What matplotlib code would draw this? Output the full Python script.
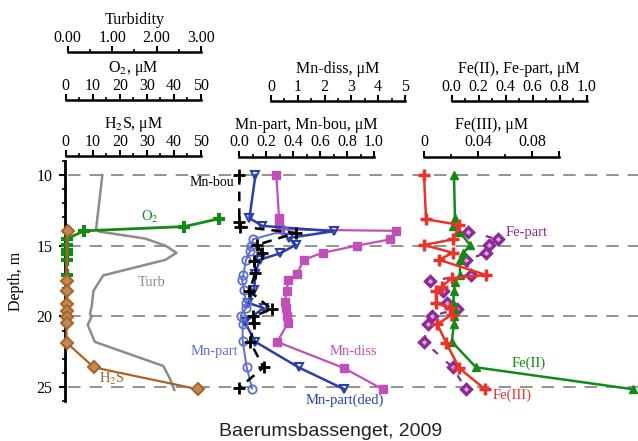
import matplotlib
matplotlib.use("Agg")
import matplotlib.pyplot as plt
from matplotlib.ticker import FixedLocator, FormatStrFormatter

plt.rcParams["font.family"] = ["Liberation Serif", "DejaVu Serif"]
plt.rcParams["mathtext.fontset"] = "stix"
plt.rcParams["lines.scale_dashes"] = False

# ---- data (depth in m) ----
turb_depth = [10.0, 13.8, 14.0, 14.5, 15.0, 15.5, 16.0, 17.1, 18.2, 19.3, 19.8, 20.0, 20.6, 21.8, 23.5, 24.4, 25.2]
turb = [0.78, 0.64, 0.70, 1.75, 2.2, 2.45, 2.2, 0.80, 0.58, 0.54, 0.50, 0.54, 0.45, 0.61, 2.15, 2.3, 2.4]

o2_depth = [13.1, 13.65, 13.95, 14.5, 14.95, 15.3, 15.6, 16.0, 17.1]
o2 = [56.5, 43.8, 6.8, 0.6, 0.3, 0.3, 0.3, 0.3, 0.3]

h2s_depth = [13.95, 17.5, 18.2, 19.1, 19.6, 20.05, 20.5, 21.85, 23.6, 25.15]
h2s = [0.7, 0.3, 0.3, 0.3, 0.3, 0.3, 0.3, 0.3, 10.4, 48.9]

mn_diss_depth = [10.0, 13.05, 13.45, 13.85, 13.95, 14.55, 15.0, 15.5, 16.0, 17.0, 17.4, 18.2, 19.0, 19.4, 20.0, 20.5, 21.8, 23.65, 25.15]
mn_diss = [0.2, 0.3, 0.3, 0.35, 4.65, 4.45, 3.2, 1.93, 1.22, 0.97, 0.65, 0.58, 0.52, 0.55, 0.6, 0.62, 0.23, 2.72, 4.17]

mn_ded_depth = [10.0, 13.05, 13.6, 13.98, 14.45, 14.95, 15.55, 16.0, 17.0, 18.1, 19.05, 19.4, 20.4, 21.8, 23.6, 25.15]
mn_ded = [0.12, 0.075, 0.17, 0.70, 0.37, 0.42, 0.30, 0.15, 0.12, 0.11, 0.065, 0.18, 0.04, 0.12, 0.44, 0.78]

mn_part_depth = [13.95, 14.55, 15.0, 15.4, 16.0, 17.05, 17.4, 18.1, 19.05, 19.4, 19.95, 20.55, 21.75, 23.6, 25.1]
mn_part = [0.33, 0.10, 0.09, 0.08, 0.05, 0.03, 0.02, 0.035, 0.05, 0.05, 0.01, 0.025, 0.025, 0.055, 0.095]

mn_bou_depth = [10.0, 13.3, 13.65, 14.1, 14.95, 15.5, 16.1, 16.9, 18.2, 19.5, 20.0, 20.5, 21.8, 23.6, 25.05]
mn_bou = [0.0, 0.0, 0.005, 0.42, 0.13, 0.17, 0.11, 0.12, 0.075, 0.24, 0.10, 0.11, 0.08, 0.18, 0.0]

fe3_depth = [10.0, 13.13, 13.53, 14.55, 14.95, 15.5, 16.0, 17.07, 17.3, 17.9, 18.2, 19.07, 19.4, 19.89, 20.55, 21.85, 23.66, 25.15]
fe3 = [0.0, 0.0015, 0.026, 0.0217, 0.0, 0.0212, 0.0113, 0.0458, 0.0204, 0.013, 0.0089, 0.0089, 0.0192, 0.0204, 0.0098, 0.0163, 0.0261, 0.0451]

fe2_depth = [10.0, 13.06, 13.6, 14.0, 14.95, 15.53, 16.0, 17.07, 17.54, 18.2, 19.07, 19.5, 20.0, 20.55, 21.78, 23.6, 25.15]
fe2 = [0.017, 0.024, 0.012, 0.056, 0.136, 0.086, 0.061, 0.061, 0.024, 0.017, 0.012, 0.024, 0.017, 0.017, 0.0, 0.18, 1.345]

fe_part_depth = [14.0, 14.55, 14.95, 15.53, 16.0, 17.07, 17.47, 18.2, 19.07, 19.5, 19.96, 20.53, 21.78, 23.6, 25.15]
fe_part = [0.123, 0.345, 0.28, 0.254, 0.106, 0.14, -0.16, -0.062, -0.037, 0.041, -0.148, -0.173, -0.205, 0.007, 0.106]

grid_depths = [10, 15, 20, 25]

W, H = 638, 441
top_px, bot_px = 160.8, 401.3
bottom = (H - bot_px) / H
height = (bot_px - top_px) / H

fig = plt.figure(figsize=(W / 100, H / 100), dpi=100)

# main depth axis
ax = fig.add_axes([65 / W, bottom, 1 - 65 / W, height])
ax.set_ylim(26, 9)
ax.set_xlim(0, 1)
for s in ["top", "right", "bottom"]:
    ax.spines[s].set_visible(False)
ax.spines["left"].set_linewidth(2)
ax.set_xticks([])
ax.set_yticks(grid_depths)
ax.yaxis.set_minor_locator(FixedLocator(range(9, 27)))
ax.tick_params(axis="y", which="major", length=4, width=1.5, labelsize=11.5, pad=5)
ax.tick_params(axis="y", which="minor", length=2, width=1.2)
ax.set_ylabel("Depth, m", fontsize=11.5, labelpad=9)
for d in grid_depths:
    ax.axhline(d, color="#8a8a8a", lw=1.3, dashes=(9, 6.5), xmin=0.005, zorder=0)

fig.text(331 / W, 1 - 431 / H, "Baerumsbassenget, 2009", family="Liberation Sans",
         fontsize=14, ha="center", va="center", color="#222222")


def scale_axis(x0, x1, lo, hi, up_px, majors, minors, fmt, label, labels=None):
    a = fig.add_axes([x0 / W, bottom, (x1 - x0) / W, height])
    a.set_xlim(lo, hi)
    a.set_ylim(26, 9)
    a.patch.set_visible(False)
    for s in ["left", "right", "bottom"]:
        a.spines[s].set_visible(False)
    a.spines["top"].set_position(("outward", up_px * 0.72))
    a.spines["top"].set_linewidth(1.8)
    a.set_yticks([])
    a.xaxis.tick_top()
    a.xaxis.set_label_position("top")
    a.set_xticks(majors)
    a.xaxis.set_minor_locator(FixedLocator(minors))
    if labels is not None:
        a.set_xticklabels(labels)
    else:
        a.xaxis.set_major_formatter(FormatStrFormatter(fmt))
    a.tick_params(axis="x", which="major", length=4, width=1.5, labelsize=11.5, pad=0.5)
    a.tick_params(axis="x", which="minor", length=2.5, width=1.2)
    a.set_xlabel(label, fontsize=11.5, labelpad=4)
    return a


ax_turb = scale_axis(67.7, 201, 0, 3, 109, [0, 1, 2, 3], [0.5, 1.5, 2.5], "%.2f", "Turbidity")
ax_o2 = scale_axis(65.7, 201, 0, 50, 60.8, range(0, 51, 10), range(5, 50, 10), "%d", "O$_2$, μM")
ax_h2s = scale_axis(65.7, 201, 0, 50, 4.8, range(0, 51, 10), range(5, 50, 10), "%d", "H$_2$S, μM")
ax_mnd = scale_axis(271, 405, 0, 5, 59.8, range(0, 6), [0.5, 1.5, 2.5, 3.5, 4.5], "%d", "Mn-diss, μM")
ax_mnp = scale_axis(239.3, 374, 0, 1, 4.1, [0, 0.2, 0.4, 0.6, 0.8, 1.0], [0.1, 0.3, 0.5, 0.7, 0.9], "%.1f",
                    "Mn-part, Mn-bou, μM")
ax_fe2 = scale_axis(451.7, 586.7, 0, 1, 59.8, [0, 0.2, 0.4, 0.6, 0.8, 1.0], [0.1, 0.3, 0.5, 0.7, 0.9], "%.1f",
                    "Fe(II), Fe-part, μM")
ax_fe3 = scale_axis(424, 559.3, 0, 0.1, 4.1, [0, 0.04, 0.08, 0.1], [0.02, 0.06], "%g", "Fe(III), μM",
                    labels=["0", "0.04", "0.08", ""])

green = "#138a13"
kw = dict(clip_on=False)

# left panel
ax_turb.plot(turb, turb_depth, color="#8c8c8c", lw=1.8, **kw)
ax_h2s.plot(h2s, h2s_depth, color="#a8652a", lw=1.6, marker="D", ms=6, mfc="#c08a55", mec="#a8652a", mew=1.5, **kw)
ax_o2.plot(o2, o2_depth, color=green, lw=2, marker="+", ms=9, mew=3, **kw)

# middle panel
ax_mnd.plot(mn_diss, mn_diss_depth, color="#c050b8", lw=1.6, marker="s", ms=6, **kw)
ax_mnp.plot(mn_ded, mn_ded_depth, color="#2b3fa6", lw=1.8, marker="v", ms=6, mfc="none", mew=1.5, **kw)
ax_mnp.plot(mn_part, mn_part_depth, color="#5f6fd0", lw=1.4, marker="o", ms=6, mfc="none", mew=1.3, **kw)
ax_mnp.plot(mn_bou, mn_bou_depth, color="black", lw=1.8, dashes=(7, 5), marker="+", ms=9, mew=2, **kw)

# right panel
ax_fe2.plot(fe_part, fe_part_depth, color="#8e2a96", lw=1.6, dashes=(5, 8), marker="D", ms=5,
            mfc="#d7a8dc", mec="#8e2a96", mew=2.4, **kw)
ax_fe3.plot(fe3, fe3_depth, color="#e8352a", lw=1.8, marker="+", ms=9, mew=2.5, **kw)
ax_fe2.plot(fe2, fe2_depth, color=green, lw=1.8, marker="^", ms=6, **kw)

# series labels
ax_o2.text(31, 12.95, "O$_2$", color=green, fontsize=10.5, ha="center", va="center")
ax_turb.text(1.9, 17.6, "Turb", color="#8c8c8c", fontsize=10.5, ha="center", va="center")
ax_h2s.text(17, 24.4, "H$_2$S", color="#a8652a", fontsize=10.5, ha="center", va="center")
ax_mnp.text(-0.04, 10.5, "Mn-bou", color="black", fontsize=10, ha="right", va="center")
ax_mnp.text(-0.01, 22.5, "Mn-part", color="#5f6fd0", fontsize=10.5, ha="right", va="center")
ax_mnd.text(3.06, 22.5, "Mn-diss", color="#c050b8", fontsize=10.5, ha="center", va="center")
ax_mnp.text(0.785, 25.95, "Mn-part(ded)", color="#2b3fa6", fontsize=10.5, ha="center", va="center")
ax_fe2.text(0.40, 14.1, "Fe-part", color="#8e2a96", fontsize=10.5, ha="left", va="center")
ax_fe2.text(0.573, 23.3, "Fe(II)", color=green, fontsize=10.5, ha="center", va="center")
ax_fe2.text(0.446, 25.55, "Fe(III)", color="#e8352a", fontsize=10.5, ha="center", va="center")

fig.savefig("out.png", dpi=100)
